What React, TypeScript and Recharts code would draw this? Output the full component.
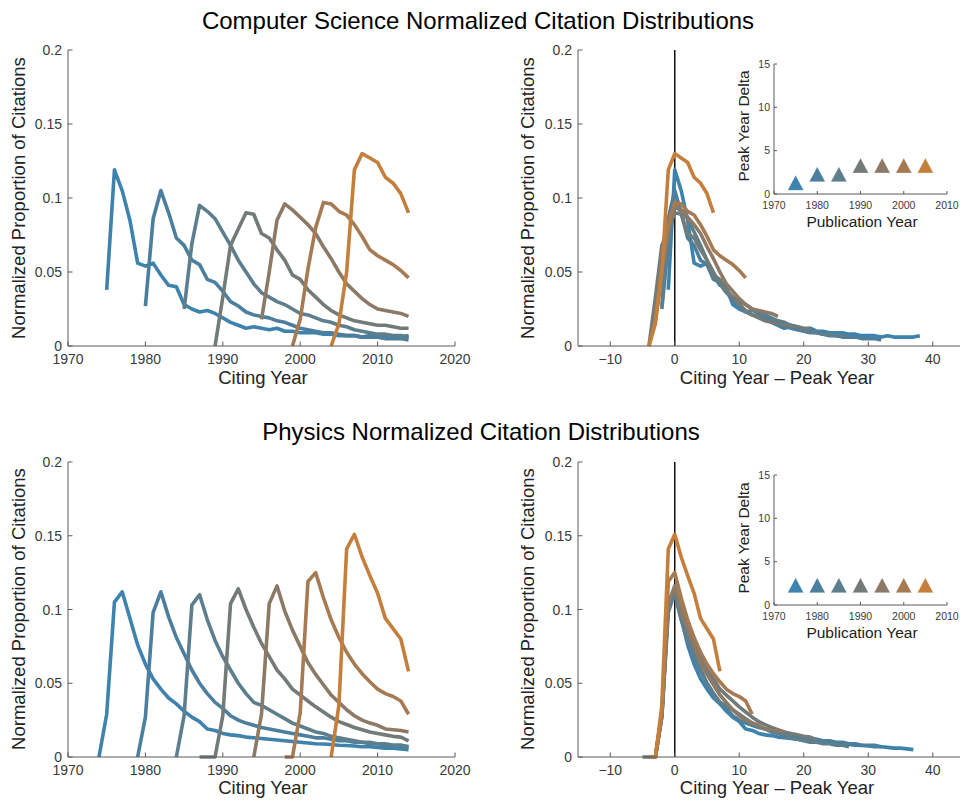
import React from 'react';
import { LineChart, Line, XAxis, YAxis, ReferenceLine, ScatterChart, Scatter } from 'recharts';

// ---------- data ----------
const PUB_YEARS = [1975, 1980, 1985, 1990, 1995, 2000, 2005];
const SERIES_COLORS = ['#3d83ad', '#4c7f9e', '#5d7e8d', '#737b79', '#8c7a66', '#a67b53', '#c47f3c'];

// Computer Science: first citing year of each curve, then yearly values up to 2014
const CS_START_YEARS = [1975, 1980, 1985, 1989, 1995, 1999, 2004];
const CS_1975 = [0.038, 0.119, 0.105, 0.085, 0.056, 0.054, 0.056, 0.048, 0.041, 0.040, 0.028, 0.025, 0.023, 0.024, 0.022, 0.019, 0.016, 0.014, 0.012, 0.013, 0.012, 0.011, 0.012, 0.010, 0.010, 0.009, 0.009, 0.009, 0.008, 0.008, 0.007, 0.007, 0.007, 0.006, 0.007, 0.006, 0.006, 0.006, 0.006, 0.007];
const CS_1980 = [0.027, 0.086, 0.105, 0.090, 0.073, 0.068, 0.058, 0.055, 0.045, 0.043, 0.037, 0.030, 0.027, 0.023, 0.021, 0.020, 0.019, 0.017, 0.016, 0.014, 0.012, 0.011, 0.010, 0.009, 0.009, 0.008, 0.007, 0.007, 0.006, 0.006, 0.006, 0.005, 0.005, 0.005, 0.004];
const CS_1985 = [0.025, 0.069, 0.095, 0.091, 0.086, 0.077, 0.068, 0.058, 0.050, 0.042, 0.036, 0.033, 0.030, 0.028, 0.025, 0.022, 0.021, 0.019, 0.017, 0.016, 0.014, 0.013, 0.011, 0.010, 0.009, 0.008, 0.008, 0.007, 0.007, 0.006];
const CS_1990 = [0, 0.033, 0.068, 0.079, 0.090, 0.089, 0.076, 0.073, 0.065, 0.058, 0.048, 0.045, 0.038, 0.033, 0.028, 0.024, 0.021, 0.019, 0.017, 0.016, 0.015, 0.014, 0.014, 0.013, 0.012, 0.012];
const CS_1995 = [0.018, 0.050, 0.085, 0.096, 0.092, 0.087, 0.082, 0.076, 0.067, 0.059, 0.050, 0.042, 0.037, 0.032, 0.028, 0.025, 0.024, 0.023, 0.022, 0.020];
const CS_2000 = [0, 0.018, 0.052, 0.080, 0.097, 0.096, 0.091, 0.0885, 0.082, 0.074, 0.065, 0.061, 0.058, 0.055, 0.051, 0.046];
const CS_2005 = [0, 0.015, 0.050, 0.119, 0.130, 0.127, 0.124, 0.114, 0.110, 0.103, 0.090];
const CS_VALUES = [CS_1975, CS_1980, CS_1985, CS_1990, CS_1995, CS_2000, CS_2005];
const CS_PEAK_DELTA = [1, 2, 2, 3, 3, 3, 3];

// Physics
const PHYS_START_YEARS = [1974, 1979, 1984, 1987, 1994, 1998, 2004];
const PHYS_1975 = [0, 0.029, 0.105, 0.112, 0.094, 0.076, 0.063, 0.053, 0.046, 0.040, 0.036, 0.031, 0.027, 0.024, 0.019, 0.018, 0.016, 0.015, 0.0145, 0.0135, 0.013, 0.0125, 0.012, 0.0115, 0.011, 0.0105, 0.010, 0.0095, 0.009, 0.0088, 0.0085, 0.008, 0.0078, 0.0075, 0.007, 0.007, 0.0065, 0.006, 0.006, 0.0055, 0.005];
const PHYS_1980 = [0, 0.027, 0.098, 0.112, 0.095, 0.081, 0.070, 0.059, 0.050, 0.043, 0.037, 0.033, 0.028, 0.025, 0.023, 0.0215, 0.020, 0.019, 0.018, 0.017, 0.016, 0.015, 0.014, 0.013, 0.013, 0.012, 0.011, 0.011, 0.010, 0.010, 0.009, 0.009, 0.008, 0.008, 0.008, 0.007];
const PHYS_1985 = [0, 0.028, 0.103, 0.110, 0.093, 0.079, 0.068, 0.059, 0.050, 0.043, 0.037, 0.035, 0.032, 0.029, 0.026, 0.023, 0.021, 0.019, 0.017, 0.016, 0.014, 0.013, 0.012, 0.011, 0.010, 0.010, 0.009, 0.009, 0.008, 0.008, 0.007];
const PHYS_1990 = [0, 0, 0, 0.028, 0.104, 0.114, 0.100, 0.088, 0.077, 0.068, 0.059, 0.053, 0.046, 0.042, 0.038, 0.034, 0.0305, 0.027, 0.024, 0.022, 0.020, 0.0185, 0.017, 0.016, 0.015, 0.014, 0.0135, 0.011];
const PHYS_1995 = [0, 0.029, 0.104, 0.116, 0.099, 0.086, 0.075, 0.064, 0.056, 0.049, 0.042, 0.037, 0.032, 0.028, 0.025, 0.023, 0.0215, 0.019, 0.0185, 0.018, 0.017];
const PHYS_2000 = [0, 0, 0.030, 0.119, 0.125, 0.108, 0.093, 0.081, 0.071, 0.063, 0.0565, 0.051, 0.046, 0.043, 0.041, 0.038, 0.029];
const PHYS_2005 = [0, 0.035, 0.141, 0.151, 0.1356, 0.123, 0.111, 0.094, 0.087, 0.080, 0.058];
const PHYS_VALUES = [PHYS_1975, PHYS_1980, PHYS_1985, PHYS_1990, PHYS_1995, PHYS_2000, PHYS_2005];
const PHYS_PEAK_DELTA = [2, 2, 2, 2, 2, 2, 2];

// ticks
const LEFT_X_TICKS = [1970, 1980, 1990, 2000, 2010, 2020];
const RIGHT_X_TICKS = [-10, 0, 10, 20, 30, 40];
const Y_TICKS = [0, 0.05, 0.1, 0.15, 0.2];
const INSET_X_TICKS = [1970, 1980, 1990, 2000, 2010];
const INSET_Y_TICKS = [0, 5, 10, 15];

// ---------- helpers ----------
type Pt = { x: number; y: number };
const byYear = (start: number, vals: number[]): Pt[] => vals.map((v, i) => ({ x: start + i, y: v }));
const byPeak = (start: number, vals: number[], peak: number): Pt[] =>
  vals.map((v, i) => ({ x: start + i - peak, y: v }));

const FONT = '"Liberation Sans", Arial, Helvetica, sans-serif';
const AXIS = '#5a5a5a';
const TICK_TXT = '#3a3a3a';
const LABEL_TXT = '#222222';

const fmt = (v: number) => (v < 0 ? '\u2212' + String(-v) : String(v));

const makeBottomTick = (len: number, fs: number, off: number) => (p: any) => (
  <g>
    <line x1={p.x} y1={p.y} x2={p.x} y2={p.y - len} stroke={AXIS} strokeWidth={1} />
    <text x={p.x} y={p.y + off} textAnchor="middle" fontSize={fs} fill={TICK_TXT} fontFamily={FONT}>
      {fmt(p.payload.value)}
    </text>
  </g>
);

const makeLeftTick = (len: number, fs: number, gap: number) => (p: any) => (
  <g>
    <line x1={p.x} y1={p.y} x2={p.x + len} y2={p.y} stroke={AXIS} strokeWidth={1} />
    <text x={p.x - gap} y={p.y + fs * 0.36} textAnchor="end" fontSize={fs} fill={TICK_TXT} fontFamily={FONT}>
      {fmt(p.payload.value)}
    </text>
  </g>
);

const Triangle = (p: any) => {
  const { cx, cy, fill } = p;
  return (
    <polygon
      points={`${cx},${cy - 10} ${cx - 8},${cy + 5} ${cx + 8},${cy + 5}`}
      fill={fill}
      stroke="#ffffff"
      strokeOpacity={0.35}
      strokeWidth={0.8}
    />
  );
};

const TextLabel = ({ x, y, size, rotate, color, children }: any) => (
  <div
    style={{
      position: 'absolute',
      left: x,
      top: y,
      transform: `translate(-50%, -50%)${rotate ? ' rotate(-90deg)' : ''}`,
      fontSize: size,
      fontFamily: FONT,
      color: color || LABEL_TXT,
      whiteSpace: 'nowrap',
      lineHeight: 1,
    }}
  >
    {children}
  </div>
);

const mainBottomTick = makeBottomTick(4.5, 14, 17.5);
const mainLeftTick = makeLeftTick(4.5, 14, 6);
const insetBottomTick = makeBottomTick(3, 10.5, 14.5);
const insetLeftTick = makeLeftTick(3, 10.5, 4);

const LeftPanel = ({ top, marginTop, xAxisH, starts, values }: any) => (
  <div style={{ position: 'absolute', left: 0, top }}>
    <LineChart width={480} height={400} margin={{ top: marginTop, right: 25, bottom: 0, left: 0 }}>
      <XAxis
        type="number"
        dataKey="x"
        domain={[1970, 2020]}
        ticks={LEFT_X_TICKS}
        height={xAxisH}
        tickSize={0}
        tickMargin={0}
        tickLine={false}
        tick={mainBottomTick}
        axisLine={{ stroke: AXIS, strokeWidth: 1 }}
        interval={0}
      />
      <YAxis
        type="number"
        domain={[0, 0.2]}
        ticks={Y_TICKS}
        width={68}
        tickSize={0}
        tickMargin={0}
        tickLine={false}
        tick={mainLeftTick}
        axisLine={{ stroke: AXIS, strokeWidth: 1 }}
        interval={0}
      />
      {values.map((vals: number[], i: number) => (
        <Line
          key={PUB_YEARS[i]}
          data={byYear(starts[i], vals)}
          dataKey="y"
          type="linear"
          stroke={SERIES_COLORS[i]}
          strokeWidth={3.6}
          strokeLinejoin="round"
          dot={false}
          activeDot={false}
          isAnimationActive={false}
        />
      ))}
    </LineChart>
  </div>
);

const RightPanel = ({ top, marginTop, xAxisH, starts, values, deltas }: any) => (
  <div style={{ position: 'absolute', left: 480, top }}>
    <LineChart width={490} height={400} margin={{ top: marginTop, right: 5, bottom: 0, left: 0 }}>
      <XAxis
        type="number"
        dataKey="x"
        domain={[-15, 45]}
        ticks={RIGHT_X_TICKS}
        height={xAxisH}
        tickSize={0}
        tickMargin={0}
        tickLine={false}
        tick={mainBottomTick}
        axisLine={{ stroke: AXIS, strokeWidth: 1 }}
        interval={0}
      />
      <YAxis
        type="number"
        domain={[0, 0.2]}
        ticks={Y_TICKS}
        width={98}
        tickSize={0}
        tickMargin={0}
        tickLine={false}
        tick={mainLeftTick}
        axisLine={{ stroke: AXIS, strokeWidth: 1 }}
        interval={0}
      />
      <ReferenceLine x={0} stroke="#111111" strokeWidth={1.5} />
      {values.map((vals: number[], i: number) => (
        <Line
          key={PUB_YEARS[i]}
          data={byPeak(starts[i], vals, PUB_YEARS[i] + deltas[i])}
          dataKey="y"
          type="linear"
          stroke={SERIES_COLORS[i]}
          strokeWidth={3.6}
          strokeLinejoin="round"
          dot={false}
          activeDot={false}
          isAnimationActive={false}
        />
      ))}
    </LineChart>
  </div>
);

const Inset = ({ top, deltas }: any) => (
  <div style={{ position: 'absolute', left: 720, top }}>
    <ScatterChart width={240} height={220} margin={{ top: 34, right: 13, bottom: 0, left: 0 }}>
      <XAxis
        type="number"
        dataKey="x"
        domain={[1970, 2010]}
        ticks={INSET_X_TICKS}
        height={56}
        tickSize={0}
        tickMargin={0}
        tickLine={false}
        tick={insetBottomTick}
        axisLine={{ stroke: AXIS, strokeWidth: 1 }}
        interval={0}
      />
      <YAxis
        type="number"
        dataKey="y"
        domain={[0, 15]}
        ticks={INSET_Y_TICKS}
        width={54}
        tickSize={0}
        tickMargin={0}
        tickLine={false}
        tick={insetLeftTick}
        axisLine={{ stroke: AXIS, strokeWidth: 1 }}
        interval={0}
      />
      {PUB_YEARS.map((yr, i) => (
        <Scatter
          key={yr}
          data={[{ x: yr, y: deltas[i] }]}
          fill={SERIES_COLORS[i]}
          shape={Triangle}
          isAnimationActive={false}
        />
      ))}
    </ScatterChart>
  </div>
);

export default function App() {
  return (
    <div
      style={{
        position: 'absolute',
        left: 0,
        top: 0,
        width: 960,
        height: 802,
        overflow: 'hidden',
        background: '#ffffff',
        fontFamily: FONT,
      }}
    >
      <LeftPanel top={0} marginTop={50} xAxisH={54} starts={CS_START_YEARS} values={CS_VALUES} />
      <RightPanel top={0} marginTop={50} xAxisH={54} starts={CS_START_YEARS} values={CS_VALUES} deltas={CS_PEAK_DELTA} />
      <Inset top={30} deltas={CS_PEAK_DELTA} />

      <LeftPanel top={400} marginTop={62} xAxisH={43} starts={PHYS_START_YEARS} values={PHYS_VALUES} />
      <RightPanel top={400} marginTop={62} xAxisH={43} starts={PHYS_START_YEARS} values={PHYS_VALUES} deltas={PHYS_PEAK_DELTA} />
      <Inset top={441} deltas={PHYS_PEAK_DELTA} />

      <TextLabel x={478} y={21} size={24} color="#000000">Computer Science Normalized Citation Distributions</TextLabel>
      <TextLabel x={481} y={432} size={24} color="#000000">Physics Normalized Citation Distributions</TextLabel>

      <TextLabel x={19} y={198} size={18.5} rotate>Normalized Proportion of Citations</TextLabel>
      <TextLabel x={528} y={198} size={18.5} rotate>Normalized Proportion of Citations</TextLabel>
      <TextLabel x={19} y={609} size={18.5} rotate>Normalized Proportion of Citations</TextLabel>
      <TextLabel x={528} y={609} size={18.5} rotate>Normalized Proportion of Citations</TextLabel>

      <TextLabel x={263} y={378} size={18.5}>Citing Year</TextLabel>
      <TextLabel x={777} y={378} size={18.5}>Citing Year – Peak Year</TextLabel>
      <TextLabel x={263} y={788} size={18.5}>Citing Year</TextLabel>
      <TextLabel x={777} y={788} size={18.5}>Citing Year – Peak Year</TextLabel>

      <TextLabel x={744} y={126} size={15.5} rotate>Peak Year Delta</TextLabel>
      <TextLabel x={862} y={222} size={15.5}>Publication Year</TextLabel>
      <TextLabel x={744} y={538} size={15.5} rotate>Peak Year Delta</TextLabel>
      <TextLabel x={862} y={633} size={15.5}>Publication Year</TextLabel>
    </div>
  );
}
